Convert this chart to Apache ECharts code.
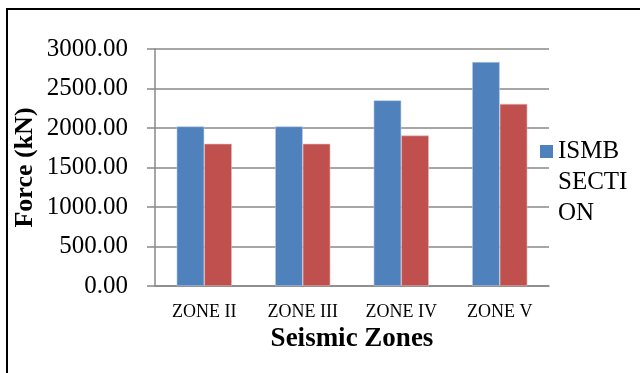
<!DOCTYPE html>
<html>
<head>
<meta charset="utf-8">
<script src="https://cdn.jsdelivr.net/npm/echarts@6/dist/echarts.min.js"></script>
<style>html,body{margin:0;padding:0;background:#fff}#c{width:640px;height:373px}</style>
</head>
<body>
<div id="c"></div>
<script>
var categories = ['ZONE II', 'ZONE III', 'ZONE IV', 'ZONE V'];
var ismbValues = [2020, 2020, 2350, 2835];
var otherValues = [1800, 1800, 1905, 2305];
var yTicks = { min: 0, max: 3000, interval: 500 };

var serif = '"Liberation Serif", "Times New Roman", serif';
var chart = echarts.init(document.getElementById('c'), null, { renderer: 'canvas' });
chart.setOption({
  animation: false,
  backgroundColor: '#fff',
  textStyle: { fontFamily: serif },
  grid: { left: 155, right: 91, top: 49, bottom: 87, containLabel: false },
  legend: {
    data: ['ISMB SECTION'],
    orient: 'vertical',
    left: 540, top: 136,
    padding: 0,
    itemWidth: 13, itemHeight: 75, itemGap: 0,
    icon: 'path://M0,0L13,0L13,13L0,13Z M0,75L13,75Z',
    itemStyle: { borderWidth: 0 },
    formatter: function () { return 'ISMB\nSECTI\nON'; },
    textStyle: { fontFamily: serif, fontSize: 25, color: '#000', lineHeight: 31 }
  },
  xAxis: {
    type: 'category',
    data: categories,
    name: 'Seismic Zones',
    nameLocation: 'middle',
    nameGap: 32,
    nameTextStyle: { fontFamily: serif, fontSize: 27, fontWeight: 'bold', color: '#000' },
    axisLine: { lineStyle: { color: '#888', width: 1.5 } },
    axisTick: { show: false },
    axisLabel: { fontFamily: serif, fontSize: 18, color: '#000', margin: 17 }
  },
  yAxis: {
    type: 'value',
    min: yTicks.min, max: yTicks.max, interval: yTicks.interval,
    name: 'Force (kN)',
    nameLocation: 'middle',
    nameMoveOverlap: false,
    nameGap: 117,
    nameTextStyle: { fontFamily: serif, fontSize: 26, fontWeight: 'bold', color: '#000' },
    axisLine: { show: true, lineStyle: { color: '#888', width: 1.5 } },
    axisTick: { show: true, length: 8, lineStyle: { color: '#888', width: 1.5 } },
    axisLabel: {
      fontFamily: serif, fontSize: 25, color: '#000', margin: 27,
      formatter: function (v) { return v.toFixed(2); }
    },
    splitLine: { lineStyle: { color: '#888', width: 1.5 } }
  },
  series: [
    {
      name: 'ISMB SECTION', type: 'bar', data: ismbValues,
      barGap: '0%', barCategoryGap: '44%',
      itemStyle: { color: '#4F81BD', borderColor: '#B9CDE5', borderWidth: 0.6 }
    },
    {
      name: 'Other', type: 'bar', data: otherValues,
      barGap: '0%', barCategoryGap: '44%',
      itemStyle: { color: '#C0504D', borderColor: '#E6B9B8', borderWidth: 0.6 }
    }
  ],
  graphic: [{
    type: 'polyline',
    shape: { points: [[7, 373], [7, 9], [640, 9]] },
    style: { stroke: '#000', lineWidth: 2, fill: null }
  }]
});
</script>
</body>
</html>
